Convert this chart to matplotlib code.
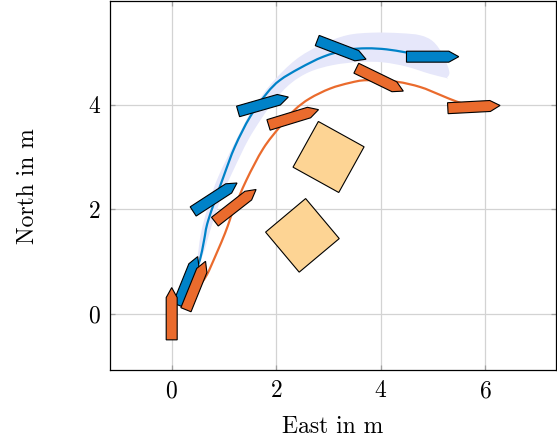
import numpy as np
import matplotlib
matplotlib.use('Agg')
from matplotlib import pyplot as plt
from matplotlib.patches import Polygon, PathPatch
from matplotlib.path import Path

plt.rcParams['font.family'] = 'serif'
plt.rcParams['font.serif'] = ['cmr10', 'DejaVu Serif']
plt.rcParams['mathtext.fontset'] = 'cm'
plt.rcParams['axes.formatter.use_mathtext'] = True

azul = '#0082C8'
naranja = '#EA6B2D'

# trayectorias
blue_x = [0.45, 0.54, 0.62, 0.70, 0.99, 1.21, 1.50, 1.82, 2.07, 2.45, 2.90, 3.35, 3.73, 4.11, 4.49, 4.99]
blue_y = [0.85, 1.03, 1.41, 1.79, 2.62, 3.20, 3.77, 4.22, 4.47, 4.70, 4.92, 5.05, 5.08, 5.06, 5.00, 4.92]
orange_x = [0.50, 0.67, 0.86, 1.02, 1.11, 1.18, 1.43, 1.75, 2.07, 2.35, 2.64, 3.03, 3.41, 3.73, 4.30, 4.75, 5.13, 5.45, 5.78]
orange_y = [0.50, 0.74, 1.16, 1.54, 1.79, 1.98, 2.56, 3.16, 3.58, 3.90, 4.12, 4.31, 4.42, 4.47, 4.44, 4.34, 4.19, 4.06, 3.96]

# banda alrededor de la trayectoria azul
band_up_x = [0.48, 0.56, 0.71, 0.89, 1.20, 1.52, 1.91, 2.37, 2.84, 3.35, 3.85, 4.37, 4.75, 5.00, 5.19, 5.31, 5.26]
band_up_y = [0.96, 1.54, 2.11, 2.62, 3.26, 3.87, 4.41, 4.86, 5.14, 5.33, 5.38, 5.37, 5.33, 5.21, 4.95, 4.63, 4.51]
band_lo_x = [0.51, 0.61, 0.78, 0.98, 1.21, 1.46, 1.72, 1.97, 2.28, 2.64, 3.09, 3.60, 4.05, 4.49, 4.94, 5.26]
band_lo_y = [0.96, 1.16, 1.73, 2.30, 2.81, 3.32, 3.74, 4.09, 4.41, 4.63, 4.76, 4.82, 4.81, 4.73, 4.59, 4.51]

# barcos (centro, rumbo en grados)
blue_boat_x = [0.31, 0.83, 1.75, 3.25, 4.99]
blue_boat_y = [0.63, 2.23, 4.01, 5.05, 4.92]
blue_boat_hdg = [68, 33, 16, -21, 0]
orange_boat_x = [0.0, 0.46, 1.22, 2.33, 3.98, 5.78]
orange_boat_y = [0.0, 0.54, 2.07, 3.76, 4.48, 3.96]
orange_boat_hdg = [90, 68, 38, 17, -26, 3]

# obstaculos
obs_x = [3.0, 2.5]
obs_y = [3.0, 1.5]
obs_lado = [1.0, 1.0]
obs_rot = [-29, 40]

xticks = [0, 2, 4, 6]
yticks = [0, 2, 4]


def barco(cx, cy, hdg, L=1.0, w=0.21, punta=0.19):
    forma = np.array([[-L/2, -w/2], [L/2-punta, -w/2], [L/2, 0],
                      [L/2-punta, w/2], [-L/2, w/2]])
    a = np.radians(hdg)
    R = np.array([[np.cos(a), -np.sin(a)], [np.sin(a), np.cos(a)]])
    return forma @ R.T + [cx, cy]


def cuadrado(cx, cy, lado, rot):
    forma = np.array([[-1, -1], [1, -1], [1, 1], [-1, 1]]) * lado/2
    a = np.radians(rot)
    R = np.array([[np.cos(a), -np.sin(a)], [np.sin(a), np.cos(a)]])
    return forma @ R.T + [cx, cy]


def camino_suave(xs, ys, cerrado=False):
    # curva bezier que pasa por los puntos (tipo "smooth" de pgfplots)
    p = np.column_stack([xs, ys])
    n = len(p)
    verts = [p[0]]
    codes = [Path.MOVETO]
    for i in range(n - 1):
        p0 = p[i - 1] if i > 0 else p[i]
        p3 = p[i + 2] if i + 2 < n else p[i + 1]
        c1 = p[i] + (p[i + 1] - p0) / 6
        c2 = p[i + 1] - (p3 - p[i]) / 6
        verts += [c1, c2, p[i + 1]]
        codes += [Path.CURVE4] * 3
    if cerrado:
        verts.append(p[0])
        codes.append(Path.CLOSEPOLY)
    return Path(verts, codes)


fig = plt.figure(figsize=(5.57, 4.4), dpi=100)
ax = fig.add_axes([110.3/557, 69.7/440, 445.2/557, 369/440])

ax.add_patch(PathPatch(camino_suave(band_up_x + band_lo_x[::-1], band_up_y + band_lo_y[::-1], True),
                       facecolor='#E6E7FA', edgecolor='none', zorder=1))

for i in range(len(obs_x)):
    ax.add_patch(Polygon(cuadrado(obs_x[i], obs_y[i], obs_lado[i], obs_rot[i]),
                         facecolor='#FDD494', edgecolor='black', linewidth=0.8, zorder=2))

ax.add_patch(PathPatch(camino_suave(blue_x, blue_y), facecolor='none', edgecolor=azul,
                       linewidth=1.6, zorder=3))
ax.add_patch(PathPatch(camino_suave(orange_x, orange_y), facecolor='none', edgecolor=naranja,
                       linewidth=1.6, zorder=3))

for i in range(len(blue_boat_x)):
    ax.add_patch(Polygon(barco(blue_boat_x[i], blue_boat_y[i], blue_boat_hdg[i]),
                         facecolor=azul, edgecolor='black', linewidth=0.8, zorder=4))
for i in range(len(orange_boat_x)):
    ax.add_patch(Polygon(barco(orange_boat_x[i], orange_boat_y[i], orange_boat_hdg[i]),
                         facecolor=naranja, edgecolor='black', linewidth=0.8, zorder=5))

ax.set_xlim(-1.174, 7.34)
ax.set_ylim(-1.083, 5.98)
ax.set_xticks(xticks)
ax.set_yticks(yticks)
ax.grid(True, color='#D3D3D3', linewidth=0.9)
ax.set_axisbelow(True)
ax.tick_params(direction='in', length=3.5, width=0.9, color='#A0A0A0',
               top=True, right=True, labelsize=17, pad=7)
for s in ax.spines.values():
    s.set_linewidth(0.9)

ax.set_xlabel('East in m', fontsize=17, labelpad=10)
ax.set_ylabel('North in m', fontsize=17, labelpad=35)

fig.savefig('out.png', dpi=100)
